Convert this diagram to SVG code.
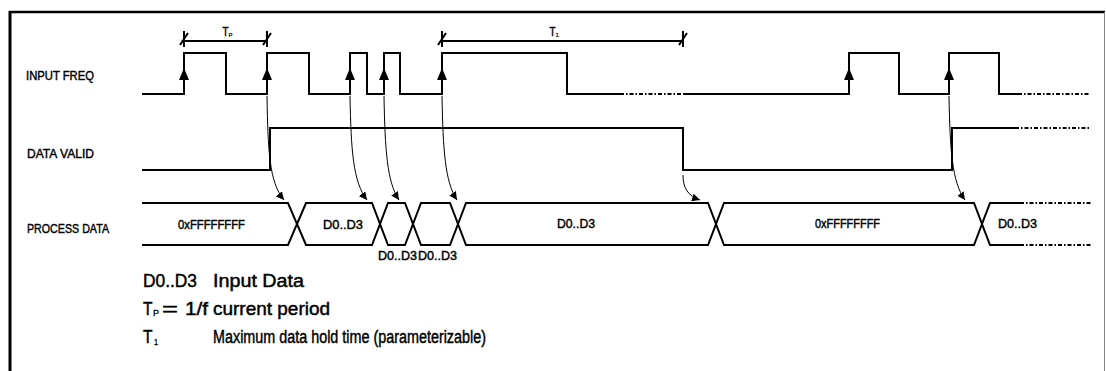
<svg xmlns="http://www.w3.org/2000/svg" xmlns:xlink="http://www.w3.org/1999/xlink" width="1106" height="371" viewBox="0 0 1106 371">
<style>
.sig{fill:none;stroke:#000;stroke-width:2;stroke-linejoin:miter}
.dd{fill:none;stroke:#000;stroke-width:2;stroke-dasharray:4 2 1.5 2}
.cur{fill:none;stroke:#000;stroke-width:1}
.dim{fill:none;stroke:#000;stroke-width:2}
text{font-family:"Liberation Sans",Arial,sans-serif;fill:#000;stroke:#000;stroke-width:0.45}
.lab{font-size:13.5px}
.bus{font-size:13px}
.leg{font-size:18px}
.sm{font-size:13px}
.sub{font-size:6px;stroke-width:0.2}
.lsub{font-size:8.5px;stroke-width:0.3}
</style>
<defs>
<path id="up" d="M0,-6 L-5,6 L5,6 Z" fill="#000"/>
<g id="tick" class="dim"><line x1="0" y1="-9" x2="0" y2="7"/><line x1="-4" y1="5" x2="4" y2="-7"/></g>
<marker id="ah" viewBox="0 0 10 10" refX="10" refY="5" markerWidth="8" markerHeight="8" markerUnits="userSpaceOnUse" orient="auto">
<path d="M0,0 L10,5 L0,10 Z" fill="#000"/>
</marker>
</defs>

<g id="frame">
<line x1="9" y1="12" x2="1105" y2="12" stroke="#000" stroke-width="2.5"/>
<line x1="10" y1="11" x2="10" y2="371" stroke="#000" stroke-width="3"/>
<line x1="1104.5" y1="12" x2="1104.5" y2="371" stroke="#888" stroke-width="1"/>
</g>

<g id="input-freq">
<text class="lab" x="26" y="80" textLength="68" lengthAdjust="spacingAndGlyphs">INPUT FREQ</text>
<path class="sig" d="M142,94 H184 V53 H226 V94 H267 V53 H309 V94 H350 V53 H367 V94 H384 V53 H400 V94 H442 V53 H567 V94 H620"/>
<path class="dd" d="M620,94 H683"/>
<path class="sig" d="M683,94 H849 V53 H899 V94 H949 V53 H999 V94 H1018"/>
<path class="dd" d="M1018,94 H1090"/>
<use xlink:href="#up" x="184" y="74"/>
<use xlink:href="#up" x="267" y="74"/>
<use xlink:href="#up" x="350" y="74"/>
<use xlink:href="#up" x="384" y="74"/>
<use xlink:href="#up" x="442" y="74"/>
<use xlink:href="#up" x="849" y="74"/>
<use xlink:href="#up" x="949" y="74"/>
</g>

<g id="dim-tp">
<line class="dim" x1="184" y1="41" x2="267" y2="41"/>
<use xlink:href="#tick" x="184" y="40"/>
<use xlink:href="#tick" x="267" y="40"/>
<text class="sm" x="222.5" y="36" textLength="6" lengthAdjust="spacingAndGlyphs">T</text>
<text class="sub" x="228.5" y="37">P</text>
</g>

<g id="dim-t1">
<line class="dim" x1="442" y1="41" x2="683" y2="41"/>
<use xlink:href="#tick" x="442" y="40"/>
<use xlink:href="#tick" x="683" y="40"/>
<text class="sm" x="549.5" y="36" textLength="6" lengthAdjust="spacingAndGlyphs">T</text>
<text class="sub" x="555.5" y="37">1</text>
</g>

<g id="data-valid">
<text class="lab" x="27" y="158" textLength="67" lengthAdjust="spacingAndGlyphs">DATA VALID</text>
<path class="sig" d="M142,170 H270 V128 H683 V170 H952 V128 H1015"/>
<path class="dd" d="M1015,128 H1089"/>
</g>

<g id="process-data">
<text class="lab" x="27" y="233" textLength="82" lengthAdjust="spacingAndGlyphs">PROCESS DATA</text>
<path class="sig" d="M142,203 H288 L297,224 L288,245 H142"/>
<path class="sig" d="M297,224 L306,203 H372 L380,224 L372,245 H306 Z"/>
<path class="sig" d="M380,224 L388,203 H405 L413,224 L405,245 H388 Z"/>
<path class="sig" d="M413,224 L421,203 H450 L458,224 L450,245 H421 Z"/>
<path class="sig" d="M458,224 L466,203 H708 L716,224 L708,245 H466 Z"/>
<path class="sig" d="M716,224 L724,203 H974 L982,224 L974,245 H724 Z"/>
<path class="sig" d="M1020,203 H990 L982,224 L990,245 H1020"/>
<path class="dd" d="M1020,203 H1091 M1020,245 H1091"/>
<text class="bus" x="178" y="229" textLength="67" lengthAdjust="spacingAndGlyphs">0xFFFFFFFF</text>
<text class="bus" x="323" y="229" textLength="40" lengthAdjust="spacingAndGlyphs">D0..D3</text>
<text class="bus" x="378" y="260" textLength="39" lengthAdjust="spacingAndGlyphs">D0..D3</text>
<text class="bus" x="418" y="260" textLength="39" lengthAdjust="spacingAndGlyphs">D0..D3</text>
<text class="bus" x="557" y="228" textLength="38" lengthAdjust="spacingAndGlyphs">D0..D3</text>
<text class="bus" x="815" y="228" textLength="65" lengthAdjust="spacingAndGlyphs">0xFFFFFFFF</text>
<text class="bus" x="998" y="228" textLength="39" lengthAdjust="spacingAndGlyphs">D0..D3</text>
</g>

<g id="connectors">
<path class="cur" marker-end="url(#ah)" d="M267,96 C268,150 269,182 284,200"/>
<path class="cur" marker-end="url(#ah)" d="M350,96 C351,150 353,182 367,200"/>
<path class="cur" marker-end="url(#ah)" d="M384,96 C385,150 387,182 399,200"/>
<path class="cur" marker-end="url(#ah)" d="M442,96 C443,150 445,182 457,200"/>
<path class="cur" marker-end="url(#ah)" d="M683,175 C683,188 688,196 700,200"/>
<path class="cur" marker-end="url(#ah)" d="M949,96 C950,150 952,182 965,200"/>
</g>

<g id="legend">
<text class="leg" x="143" y="287" textLength="54" lengthAdjust="spacingAndGlyphs">D0..D3</text>
<text class="leg" x="213" y="287" textLength="91" lengthAdjust="spacingAndGlyphs">Input Data</text>
<text class="leg" x="143" y="315" textLength="9.5" lengthAdjust="spacingAndGlyphs">T</text>
<text class="lsub" x="153" y="316" textLength="6" lengthAdjust="spacingAndGlyphs">P</text>
<text class="leg" x="162" y="315" textLength="16" lengthAdjust="spacingAndGlyphs">=</text>
<text class="leg" x="185" y="315" textLength="23" lengthAdjust="spacingAndGlyphs">1/f</text>
<text class="leg" x="213" y="315" textLength="117" lengthAdjust="spacingAndGlyphs">current period</text>
<text font-size="18" stroke="#000" stroke-width="0.45" x="143" y="343" textLength="9.5" lengthAdjust="spacingAndGlyphs">T</text>
<text class="lsub" x="154" y="345" textLength="4" lengthAdjust="spacingAndGlyphs">1</text>
<text font-size="18" stroke="#000" stroke-width="0.45" x="213" y="343" textLength="273" lengthAdjust="spacingAndGlyphs">Maximum data hold time (parameterizable)</text>
</g>
</svg>
